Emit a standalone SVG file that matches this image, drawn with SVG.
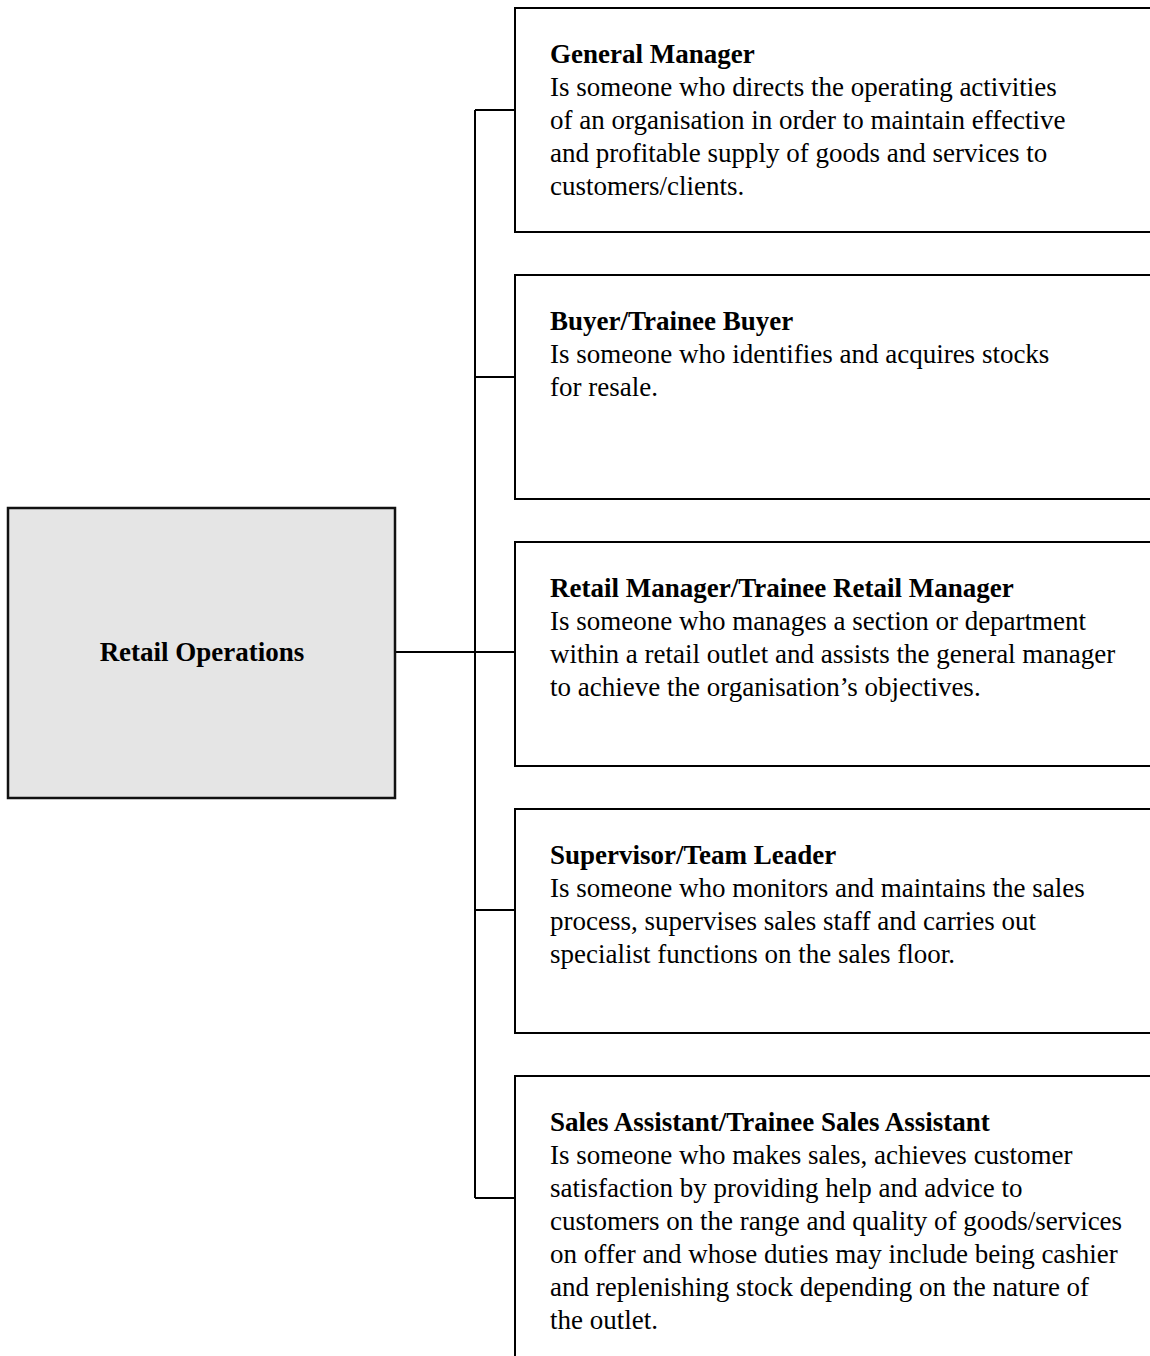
<svg xmlns="http://www.w3.org/2000/svg" width="1150" height="1356" viewBox="0 0 1150 1356">
<style>
.box{fill:#fff;stroke:#000;stroke-width:2}
.root{fill:#e5e5e5;stroke:#111;stroke-width:2.5}
.ln{fill:none;stroke:#000;stroke-width:2}
text{font-family:"Liberation Serif","Times New Roman",serif;font-size:27px;fill:#000}
.t{font-weight:bold}
</style>
<rect width="1150" height="1356" fill="#fff"/>
<g id="connectors">
<path class="ln" d="M395 652H515"/>
<path class="ln" d="M475 110V1198"/>
<path class="ln" d="M475 110H515M475 377H515M475 910H515M475 1198H515"/>
</g>
<g id="root">
<rect class="root" x="8" y="508" width="387" height="290"/>
<text class="t" x="202" y="661" text-anchor="middle">Retail Operations</text>
</g>
<g id="general-manager">
<rect class="box" x="515" y="8" width="660" height="224"/>
<text x="550" y="63"><tspan class="t">General Manager</tspan><tspan x="550" dy="33">Is someone who directs the operating activities</tspan><tspan x="550" dy="33">of an organisation in order to maintain effective</tspan><tspan x="550" dy="33">and profitable supply of goods and services to</tspan><tspan x="550" dy="33">customers/clients.</tspan></text>
</g>
<g id="buyer">
<rect class="box" x="515" y="275" width="660" height="224"/>
<text x="550" y="330"><tspan class="t">Buyer/Trainee Buyer</tspan><tspan x="550" dy="33">Is someone who identifies and acquires stocks</tspan><tspan x="550" dy="33">for resale.</tspan></text>
</g>
<g id="retail-manager">
<rect class="box" x="515" y="542" width="660" height="224"/>
<text x="550" y="597"><tspan class="t">Retail Manager/Trainee Retail Manager</tspan><tspan x="550" dy="33">Is someone who manages a section or department</tspan><tspan x="550" dy="33">within a retail outlet and assists the general manager</tspan><tspan x="550" dy="33">to achieve the organisation’s objectives.</tspan></text>
</g>
<g id="supervisor">
<rect class="box" x="515" y="809" width="660" height="224"/>
<text x="550" y="864"><tspan class="t">Supervisor/Team Leader</tspan><tspan x="550" dy="33">Is someone who monitors and maintains the sales</tspan><tspan x="550" dy="33">process, supervises sales staff and carries out</tspan><tspan x="550" dy="33">specialist functions on the sales floor.</tspan></text>
</g>
<g id="sales-assistant">
<rect class="box" x="515" y="1076" width="660" height="320"/>
<text x="550" y="1131"><tspan class="t">Sales Assistant/Trainee Sales Assistant</tspan><tspan x="550" dy="33">Is someone who makes sales, achieves customer</tspan><tspan x="550" dy="33">satisfaction by providing help and advice to</tspan><tspan x="550" dy="33">customers on the range and quality of goods/services</tspan><tspan x="550" dy="33">on offer and whose duties may include being cashier</tspan><tspan x="550" dy="33">and replenishing stock depending on the nature of</tspan><tspan x="550" dy="33">the outlet.</tspan></text>
</g>
</svg>
